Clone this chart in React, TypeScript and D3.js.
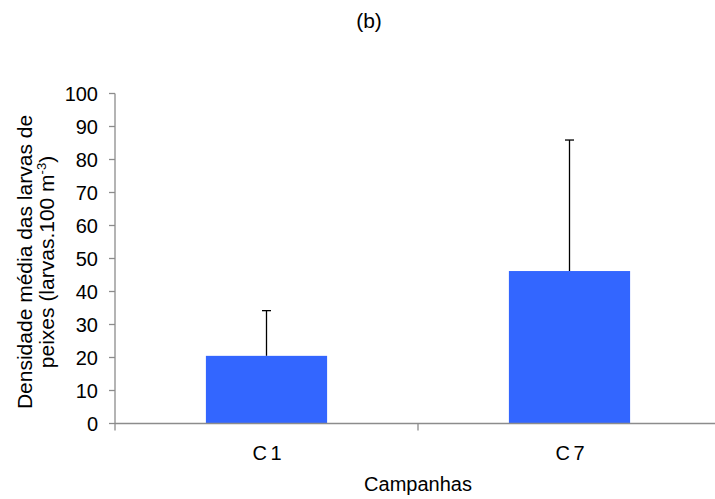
import React from "react";
import * as d3 from "d3";

const categories = ["C 1", "C 7"];
const means = [20.5, 46.2];
const upperErrors = [34.2, 85.9];
const yTicks = [0, 10, 20, 30, 40, 50, 60, 70, 80, 90, 100];

const W = 715;
const H = 499;
const margin = { left: 115, right: -6, top: 93.5, bottom: 75.5 };
const FONT = "'Liberation Sans', Arial, sans-serif";

export default function App() {
  const x = d3
    .scaleBand<string>()
    .domain(categories)
    .range([margin.left, W - margin.right])
    .paddingInner(0)
    .paddingOuter(0);
  const y = d3.scaleLinear().domain([0, 100]).range([H - margin.bottom, margin.top]);
  const barW = x.bandwidth() * 0.4;
  const axisColor = "#8c8c8c";
  const y0 = y(0);
  const xEdges = [margin.left, ...categories.map((c) => (x(c) as number) + x.bandwidth())];

  return (
    <svg
      width={W}
      height={H}
      style={{ position: "absolute", left: 0, top: 0 }}
      fontFamily={FONT}
    >
      <text x={369} y={28} textAnchor="middle" fontSize={21} fill="#000">
        (b)
      </text>

      {categories.map((c, i) => {
        const cx = (x(c) as number) + x.bandwidth() / 2;
        return (
          <g key={c}>
            <line x1={cx} x2={cx} y1={y(means[i])} y2={y(upperErrors[i])} stroke="#000" strokeWidth={1.3} />
            <line x1={cx - 4.5} x2={cx + 4.5} y1={y(upperErrors[i])} y2={y(upperErrors[i])} stroke="#000" strokeWidth={1.3} />
            <rect x={cx - barW / 2} y={y(means[i])} width={barW} height={y0 - y(means[i])} fill="#3366ff" />
            <text x={cx} y={460} textAnchor="middle" fontSize={20} letterSpacing={-1} fill="#000">
              {c}
            </text>
          </g>
        );
      })}

      {/* y axis */}
      <line x1={margin.left} x2={margin.left} y1={y(100)} y2={y0} stroke={axisColor} strokeWidth={1.3} />
      {yTicks.map((t) => (
        <g key={t}>
          <line x1={margin.left - 6} x2={margin.left} y1={y(t)} y2={y(t)} stroke={axisColor} strokeWidth={1.3} />
          <text x={98} y={y(t)} dy="0.36em" textAnchor="end" fontSize={20} fill="#000">
            {t}
          </text>
        </g>
      ))}

      {/* x axis */}
      <line x1={margin.left} x2={W} y1={y0} y2={y0} stroke={axisColor} strokeWidth={1.3} />
      {xEdges.map((ex, i) => (
        <line key={i} x1={ex} x2={ex} y1={y0} y2={y0 + 7} stroke={axisColor} strokeWidth={1.3} />
      ))}

      <text x={(margin.left + W - margin.right) / 2} y={491} textAnchor="middle" fontSize={20} fill="#000">
        Campanhas
      </text>

      <g transform="translate(0,262) rotate(-90)">
        <text x={0} y={32} textAnchor="middle" fontSize={21} fill="#000">
          Densidade média das larvas de
        </text>
        <text x={0} y={54} textAnchor="middle" fontSize={21} fill="#000">
          peixes (larvas.100 m
          <tspan dy={-8} fontSize={13}>-3</tspan>
          <tspan dy={8}>)</tspan>
        </text>
      </g>
    </svg>
  );
}
